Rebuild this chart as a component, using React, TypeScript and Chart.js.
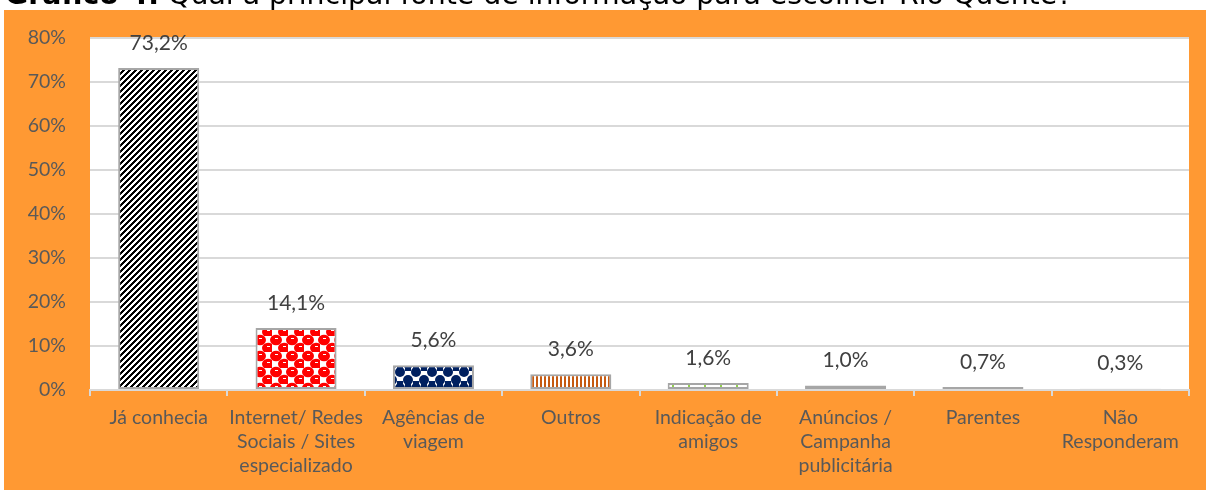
import React, { useEffect, useRef } from "react";
import { Chart, registerables } from "chart.js";

Chart.register(...registerables);

const categories: string[][] = [
  ["Já conhecia"],
  ["Internet/ Redes", "Sociais / Sites", "especializado"],
  ["Agências de", "viagem"],
  ["Outros"],
  ["Indicação de", "amigos"],
  ["Anúncios /", "Campanha", "publicitária"],
  ["Parentes"],
  ["Não", "Responderam"],
];
const values: number[] = [73.2, 14.1, 5.6, 3.6, 1.6, 1.0, 0.7, 0.3];
const yMin = 0;
const yMax = 80;
const yStep = 10;
const titleBold = "Gráfico 4.";
const titleRest = " Qual a principal fonte de informação para escolher Rio Quente?";

const ORANGE = "#ff9933";
const LABEL = "#595959";
const GRID = "#d9d9d9";
const FONT = "Lato";

function tile(w: number, h: number, draw: (c: CanvasRenderingContext2D) => void) {
  const cv = document.createElement("canvas");
  cv.width = w;
  cv.height = h;
  const c = cv.getContext("2d")!;
  c.fillStyle = "#ffffff";
  c.fillRect(0, 0, w, h);
  draw(c);
  return c.createPattern(cv, "repeat")!;
}

function makePatterns() {
  const stripes = tile(6, 6, (c) => {
    c.fillStyle = "#000000";
    for (let y = 0; y < 6; y++)
      for (let x = 0; x < 6; x++)
        if ((((x + y) % 6) + 6) % 6 < 3) c.fillRect(x, y, 1, 1);
  });
  const checker = tile(16, 16, (c) => {
    c.fillStyle = "#ff0000";
    const cell = (x: number, y: number) => {
      c.beginPath();
      c.ellipse(x + 4, y + 4, 6, 5.2, 0, 0, Math.PI * 2);
      c.fill();
    };
    cell(0, 0);
    cell(8, 8);
    cell(16, 0);
    cell(0, 16);
    cell(16, 16);
    c.fillStyle = "#ffffff";
    c.fillRect(3, 2, 3, 1);
    c.fillRect(11, 10, 3, 1);
  });
  const navy = tile(16, 16, (c) => {
    c.fillStyle = "#002060";
    const dot = (x: number, y: number) => {
      c.beginPath();
      c.arc(x, y, 5, 0, Math.PI * 2);
      c.fill();
    };
    dot(8, 12);
    dot(0, 4);
    dot(16, 4);
    c.fillRect(5, 0, 6, 3);
    c.fillRect(0, 13, 3, 3);
    c.fillRect(13, 13, 3, 3);
  });
  const vstripes = tile(4, 4, (c) => {
    c.fillStyle = "#c55a11";
    c.fillRect(0, 0, 2, 4);
  });
  const grid = tile(16, 16, (c) => {
    c.fillStyle = "#92d050";
    c.fillRect(0, 0, 2, 16);
  });
  const dots = tile(8, 4, (c) => {
    c.fillStyle = "#9dc3e6";
    c.fillRect(0, 0, 2, 4);
  });
  return [stripes, checker, navy, vstripes, grid, dots, "#a6a6a6", "#a6a6a6"];
}

export default function App() {
  const ref = useRef<HTMLCanvasElement>(null);

  useEffect(() => {
    document.body.style.margin = "0";
    const canvas = ref.current!;
    const patterns = makePatterns();

    const bgPlugin = {
      id: "bg",
      beforeDraw(chart: any) {
        const { ctx, width, height, chartArea } = chart;
        ctx.save();
        ctx.fillStyle = "#ffffff";
        ctx.fillRect(0, 0, width, height);
        ctx.fillStyle = ORANGE;
        ctx.fillRect(4, 10, width - 4, height - 10);
        ctx.fillStyle = "#ffffff";
        ctx.fillRect(chartArea.left, chartArea.top, chartArea.right - chartArea.left, chartArea.bottom - chartArea.top);
        // title (cut off at top of page)
        let fs = 24;
        ctx.font = `bold ${fs}px "DejaVu Sans"`;
        const wb = ctx.measureText(titleBold).width;
        ctx.font = `${fs}px "DejaVu Sans"`;
        const wr = ctx.measureText(titleRest).width;
        fs = (fs * 1068) / (wb + wr);
        ctx.fillStyle = "#000000";
        ctx.textBaseline = "alphabetic";
        ctx.textAlign = "left";
        ctx.font = `bold ${fs}px "DejaVu Sans"`;
        ctx.fillText(titleBold, 5, 4);
        const wb2 = ctx.measureText(titleBold).width;
        ctx.font = `${fs}px "DejaVu Sans"`;
        ctx.fillText(titleRest, 5 + wb2, 4);
        ctx.restore();
      },
    };

    const labelPlugin = {
      id: "vlabels",
      afterDatasetsDraw(chart: any) {
        const { ctx } = chart;
        const meta = chart.getDatasetMeta(0);
        ctx.save();
        ctx.fillStyle = "#404040";
        ctx.font = `21px ${FONT}`;
        ctx.textAlign = "center";
        ctx.textBaseline = "middle";
        meta.data.forEach((bar: any, i: number) => {
          const txt = values[i].toFixed(1).replace(".", ",") + "%";
          ctx.fillText(txt, bar.x, bar.y - 25);
        });
        ctx.restore();
      },
    };

    const chart = new Chart(canvas, {
      type: "bar",
      data: {
        labels: categories,
        datasets: [
          {
            data: values,
            backgroundColor: patterns as any,
            borderColor: "#a6a6a6",
            borderWidth: 2,
            borderSkipped: false,
            barPercentage: 0.59,
            categoryPercentage: 1,
          },
        ],
      },
      options: {
        responsive: false,
        animation: false,
        events: [],
        layout: { padding: { top: 38, right: 17, left: 0, bottom: 0 } },
        plugins: {
          legend: { display: false },
          tooltip: { enabled: false },
          title: { display: false },
        },
        scales: {
          x: {
            grid: {
              offset: true,
              drawOnChartArea: false,
              drawTicks: true,
              tickLength: 6,
              color: GRID,
              lineWidth: 2,
            },
            border: { color: GRID, width: 2 },
            ticks: {
              color: LABEL,
              font: { family: FONT, size: 19.5, lineHeight: 1.23 },
              padding: 10,
              maxRotation: 0,
              autoSkip: false,
            },
            afterFit: (s: any) => {
              s.height = 100;
            },
          },
          y: {
            min: yMin,
            max: yMax,
            ticks: {
              stepSize: yStep,
              callback: (v: any) => v + "%",
              color: LABEL,
              font: { family: FONT, size: 19.5 },
              padding: 24,
            },
            grid: { color: GRID, lineWidth: 2, drawTicks: false },
            border: { display: false },
            afterFit: (s: any) => {
              s.width = 90;
            },
          },
        },
      },
      plugins: [bgPlugin, labelPlugin],
    });
    return () => chart.destroy();
  }, []);

  return (
    <div style={{ width: 1206, height: 490, overflow: "hidden" }}>
      <canvas ref={ref} width={1206} height={490} style={{ display: "block" }} />
    </div>
  );
}
